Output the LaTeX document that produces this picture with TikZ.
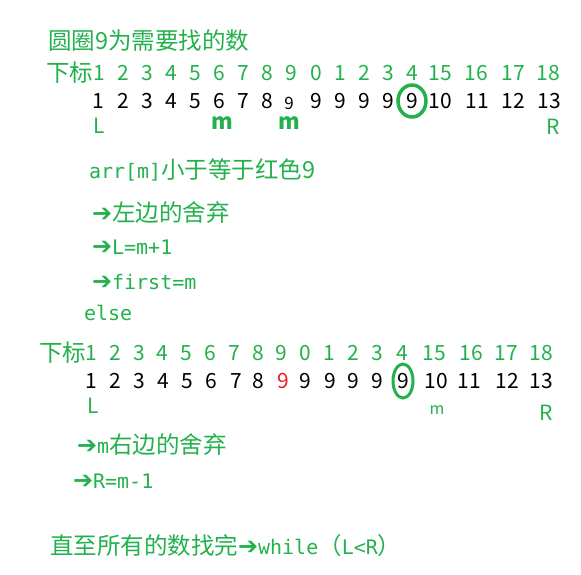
\documentclass[tikz,border=0pt]{standalone}
\usepackage{fontspec}
\setmainfont{Noto Sans CJK SC}
\newfontfamily\monof{DejaVu Sans Mono}
\newfontfamily\arrf{DejaVu Sans}
\definecolor{pg}{RGB}{34,177,76}
\definecolor{pr}{RGB}{237,28,36}
\newcommand\ar{{\arrf\fontsize{24}{20}\selectfont ➔}}
\newcommand\mo[1]{{\monof\fontsize{20}{22}\selectfont #1}}
\begin{document}
\begin{tikzpicture}[x=1pt,y=-1pt,
  every node/.style={inner sep=0pt,outer sep=0pt},
  gt/.style={text=pg,font=\fontsize{23.5}{26}\selectfont},
  idx/.style={text=pg,font=\fontsize{21}{24}\selectfont,text height=15pt,text depth=0pt},
  val/.style={text=black,font=\fontsize{21}{24}\selectfont,text height=15pt,text depth=0pt},
  lab/.style={text=pg,font=\fontsize{21}{24}\selectfont,text height=15pt,text depth=0pt},
  code/.style={text=pg,font=\fontsize{23.5}{26}\selectfont,anchor=west},
  ring/.style={draw=pg,line width=3.5pt}]
\useasboundingbox (0,0) rectangle (581,574);
% title
\node[gt,anchor=west] (title) at (48,41) {圆圈9为需要找的数};
% first array
\node[gt,anchor=west] (xb1) at (46,73) {下标};
\foreach \x/\t [count=\i] in {99/1,123/2,147/3,171/4,195/5,219/6,243/7,267/8,291/9,316/0,340/1,364/2,388/3,412/4,440/15,476/16,513/17,548/18}
  \node[idx] (ia\i) at (\x,73) {\t};
\foreach \x/\t [count=\i] in {98/1,123/2,147/3,171/4,195/5,219/6,243/7,267/8,316/9,340/9,364/9,388/9,412/9,440/10,477/11,513/12,549/13}
  \node[val] (va\i) at (\x,101) {\t};
\node[val,font=\fontsize{17}{18}\selectfont,text height=12pt] (vsmall) at (289,103) {9};
\draw[ring] (va13) ellipse [x radius=14, y radius=16];
\node[lab] (L1) at (99,126) {L};
\node[lab,font=\bfseries\fontsize{22}{24}\selectfont,text height=11pt] (m1) at (222,124) {m};
\node[lab,font=\bfseries\fontsize{22}{24}\selectfont,text height=11pt] (m2) at (289,124) {m};
\node[lab] (R1) at (553,127) {R};
% conditions
\node[code] (c1) at (89,170) {\mo{arr[m]}小于等于红色9};
\node[code] (c2) at (92,212) {\ar 左边的舍弃};
\node[code] (c3) at (92,247) {\ar\mo{L=m+1}};
\node[code] (c4) at (92,282) {\ar\mo{first=m}};
\node[code] (c5) at (84,313) {\mo{else}};
% second array
\node[gt,anchor=west] (xb2) at (39,353) {下标};
\foreach \x/\t [count=\i] in {91/1,115/2,139/3,162/4,186/5,210/6,234/7,258/8,281/9,305/0,329/1,353/2,377/3,402/4,434/15,471/16,506/17,541/18}
  \node[idx] (ib\i) at (\x,353) {\t};
\foreach \x/\t [count=\i] in {91/1,115/2,139/3,163/4,187/5,211/6,236/7,258/8,305/9,330/9,353/9,377/9,403/9,436/10,469/11,507/12,541/13}
  \node[val] (vb\i) at (\x,381) {\t};
\node[val,text=pr] (vred) at (283,381) {9};
\draw[ring,line width=3pt] (vb13) ellipse [x radius=10, y radius=17];
\node[lab] (L2) at (93,406) {L};
\node[lab,font=\fontsize{16}{18}\selectfont,text height=8pt] (m3) at (437,410) {m};
\node[lab] (R2) at (546,413) {R};
% consequences
\node[code] (d1) at (77,444) {\ar\mo{m}右边的舍弃};
\node[code] (d2) at (73,481) {\ar\mo{R=m-1}};
% loop
\node[code] (w) at (50,546) {直至所有的数找完\ar\mo{while}（\mo{L<R}）};
\end{tikzpicture}
\end{document}
